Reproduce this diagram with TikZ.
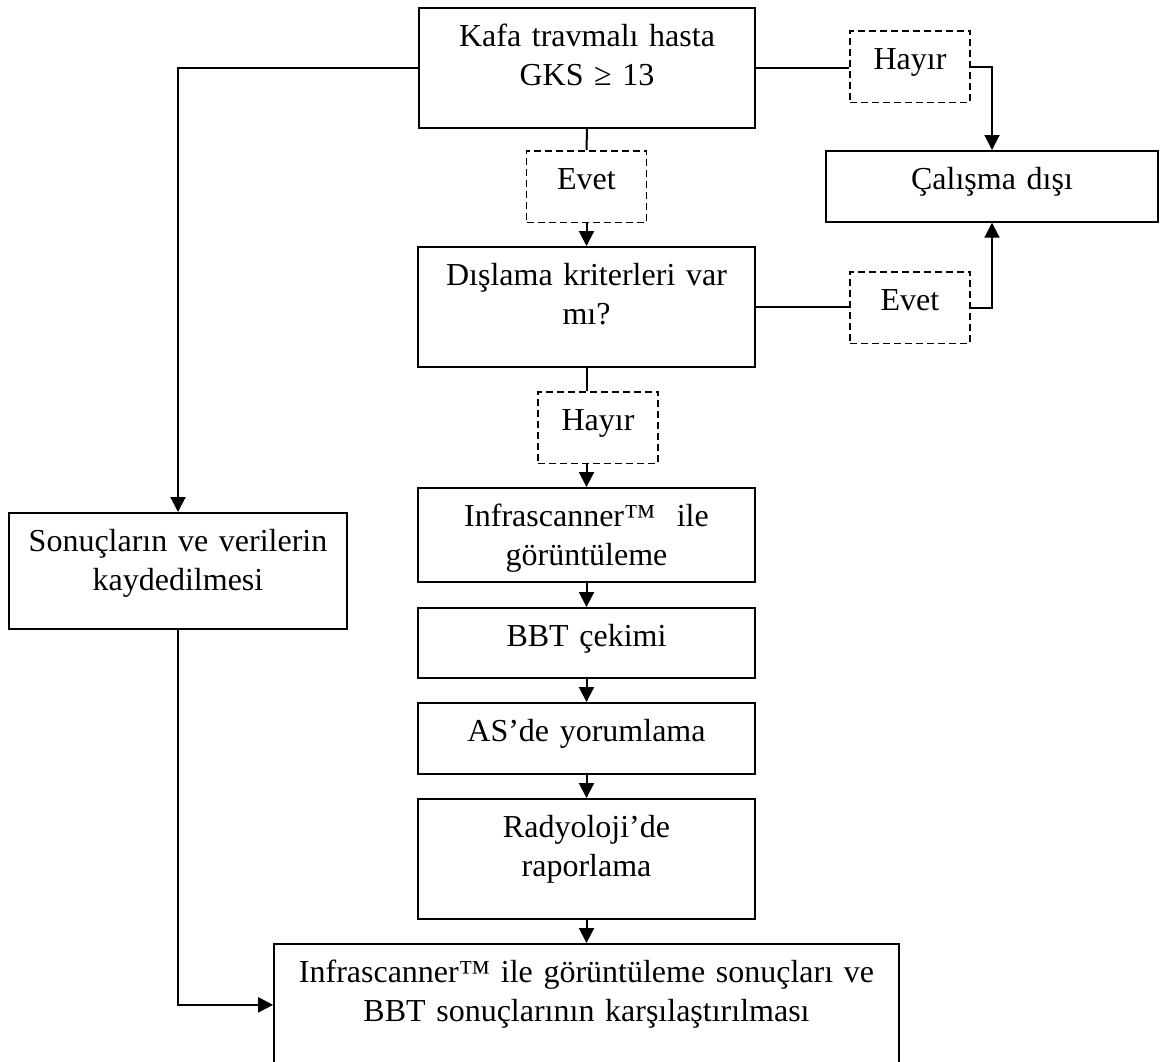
\documentclass[tikz,border=0pt]{standalone}
\usepackage{fontspec}
\setmainfont{Liberation Serif}
\usetikzlibrary{arrows.meta}

\tikzset{
  kutu/.style 2 args={draw, line width=.85pt, anchor=north, inner sep=0pt,
    align=center, font=\fontsize{16}{19.5}\selectfont,
    text width=#1, text height=19.5pt, text depth=#2},
  secim/.style={kutu={60pt}{16.25pt}, line width=.75pt, dash pattern=on 3.5pt off 2pt},
  hat/.style={line width=1pt},
  ok/.style={hat, -{Triangle[length=7.5pt,width=7.5pt]}}
}

\begin{document}
\begin{tikzpicture}[x=0.5pt, y=-0.5pt]
  \useasboundingbox (0,0) rectangle (1161,1061);

  % Kutular
  \node[kutu={168pt}{40.5pt}] (kafa) at (587,7) {Kafa travmalı hasta\\GKS ≥ 13};
  \node[secim] (hayir1) at (910,30) {Hayır};
  \node[kutu={166pt}{16pt}] (calisma) at (992,150) {Çalışma dışı};
  \node[secim] (evet1) at (586.5,150) {Evet};
  \node[kutu={168.5pt}{40.5pt}] (dislama) at (586.5,246) {Dışlama kriterleri var\\mı?};
  \node[secim] (evet2) at (910,271) {Evet};
  \node[secim] (hayir2) at (598,391) {Hayır};
  \node[kutu={168.5pt}{27.5pt}] (infra) at (586.5,487) {Infrascanner™\ \ ile\\görüntüleme};
  \node[kutu={168.5pt}{15.5pt}] (bbt) at (586.5,607) {BBT çekimi};
  \node[kutu={168.5pt}{16pt}] (yorum) at (586.5,702) {AS’de yorumlama};
  \node[kutu={168.5pt}{40.5pt}] (rapor) at (586.5,798) {Radyoloji’de\\raporlama};
  \node[kutu={169pt}{38.5pt}] (kayit) at (178,512) {Sonuçların ve verilerin\\kaydedilmesi};
  \node[kutu={312.5pt}{41.5pt}] (karsi) at (586.5,943) {Infrascanner™ ile görüntüleme sonuçları ve\\BBT sonuçlarının karşılaştırılması};

  % Oklar
  \draw[ok] (kafa.west) -| (kayit.north);
  \draw[hat] (kafa.east) -- (kafa.east -| hayir1.west);
  \draw[ok] (hayir1.east) -| (calisma.north);
  \draw[hat] (kafa.south) -- (evet1.north);
  \draw[ok] (evet1.south) -- (dislama.north);
  \draw[hat] (dislama.east) -- (dislama.east -| evet2.west);
  \draw[ok] (evet2.east) -| (calisma.south);
  \draw[hat] (dislama.south) -- (dislama.south |- hayir2.north);
  \draw[ok] (dislama.south |- hayir2.south) -- (infra.north);
  \foreach \a/\b in {infra/bbt, bbt/yorum, yorum/rapor, rapor/karsi}
    \draw[ok] (\a.south) -- (\b.north);
  \draw[ok] (kayit.south) |- (karsi.west);
\end{tikzpicture}
\end{document}
